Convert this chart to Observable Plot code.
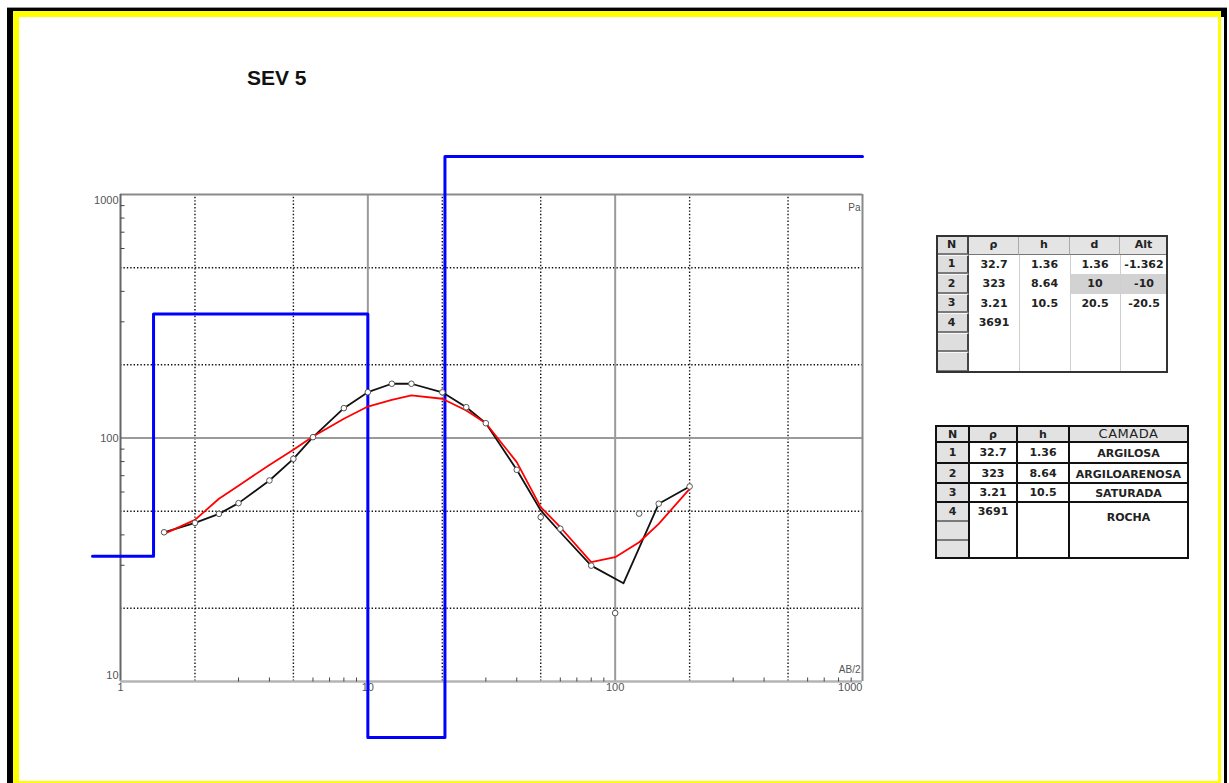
<!DOCTYPE html>
<html>
<head>
<meta charset="utf-8">
<script src="https://cdn.jsdelivr.net/npm/d3@7"></script>
<script src="https://cdn.jsdelivr.net/npm/@observablehq/plot@0.6"></script>
<style>
  body { margin: 0; background: #fff; }
  #page { position: relative; width: 1229px; height: 783px; overflow: hidden; background: #fff; font-family: "DejaVu Sans", sans-serif; }
  #page svg { position: absolute; left: 0; top: 0; }
</style>
</head>
<body>
<div id="page"></div>
<script>
// Sounding SEV 5: half electrode spacing AB/2 (m) and apparent resistivity (ohm.m)
const abHalf      = [1.5, 2, 2.5, 3, 4, 5, 6, 8, 10, 12.5, 15, 20, 25, 30, 40, 50, 60, 80, 100, 125, 150, 200];
const rhoObserved = [41.0, 44.8, 48.8, 54.0, 66.9, 82.1, 100.8, 132.6, 154.2, 167, 167, 154, 133.8, 115, 74, 47.3, 42.4, 29.9, 19.1, 48.9, 53.7, 63.2];

// Field curve as drawn (smoothed through the readings)
const curveAB  = [1.5, 2, 2.5, 3, 4, 5, 6, 8, 10, 12.5, 15, 20, 25, 30, 40, 50, 60, 80, 108, 150, 200];
const curveRho = [41.0, 44.8, 48.8, 54.0, 66.9, 82.1, 100.8, 132.6, 154.2, 167, 167, 154, 133.8, 115, 74, 50.4, 41.0, 29.9, 25.3, 53.7, 63.2];

// Theoretical curve of the fitted model, at the same spacings
const modelRho = [40.4, 46.1, 56.3, 63.7, 77.5, 89.4, 101.4, 120, 134.6, 143.5, 149.5, 144.9, 129.7, 115, 79.6, 52, 43, 30.9, 32.4, 37.3, 44.4, 61.8];

// Layered model
const layerN     = [1, 2, 3, 4];
const layerRho   = [32.7, 323, 3.21, 3691];
const layerH     = [1.36, 8.64, 10.5];
const layerDepth = [1.36, 10, 20.5];
const layerAlt   = [-1.362, -10, -20.5];
const layerName  = ["ARGILOSA", "ARGILOARENOSA", "SATURADA", "ROCHA"];
const modelTop = 0.1;     // surface end of the model column
const modelBottom = 1000; // last layer runs to the end of the axis

// Axes
const xTickLabels = [1, 10, 100, 1000];
const yTickLabels = [1000, 100, 10];
const gridMajor   = [10, 100];
const gridDotX    = [2, 5, 20, 50, 200, 500];
const gridDotY    = [20, 50, 200, 500];
const minorTicks  = [3, 4, 6, 7, 8, 9, 30, 40, 60, 70, 80, 90, 300, 400, 600, 700, 800, 900];
const minorTicksY = [30, 40, 60, 70, 80, 90, 300, 400, 600, 700, 800, 900];

const observed = abHalf.map((a, i) => ({ab: a, rho: rhoObserved[i]}));
const fieldCurve = curveAB.map((a, i) => ({ab: a, rho: curveRho[i]}));
const modelCurve = abHalf.map((a, i) => ({ab: a, rho: modelRho[i]}));
const modelSteps = [modelTop, ...layerDepth, modelBottom].map((d, i) => ({depth: d, rho: layerRho[Math.min(i, layerRho.length - 1)]}));

const page = document.getElementById("page");

// Window frame
function box(x, y, w, h, css, text) {
  const el = document.createElement("div");
  el.style.cssText = `position:absolute;left:${x}px;top:${y}px;width:${w}px;height:${h}px;box-sizing:border-box;display:flex;align-items:center;justify-content:center;white-space:nowrap;${css || ""}`;
  if (text != null) el.textContent = text;
  page.appendChild(el);
  return el;
}
box(7, 7, 1220, 1, "background:#9a9a9a");
box(7, 8, 1220, 800, "background:#000");
box(13, 11, 1208, 800, "background:#ffff00");
box(1221, 17, 3, 800, "background:#fff");
box(19, 17, 1199, 764, "background:#fff");

// Title
box(247, 67, 120, 21, "justify-content:flex-start;font:bold 21px 'Liberation Sans',Arial,sans-serif;color:#111;line-height:21px", "SEV 5");

// Tick marks drawn as symbols
const tickUp = {draw(ctx) { ctx.moveTo(0, 0); ctx.lineTo(0, -4); }};
const tickRight = {draw(ctx) { ctx.moveTo(0, 0); ctx.lineTo(4, 0); }};

const labelStyle = {fill: "#555", fontSize: 11};
const dotted = {stroke: "#111", strokeWidth: 1.4, strokeDasharray: "1.4,2"};

const chart = Plot.plot({
  width: 1229,
  height: 783,
  x: {type: "log", domain: [0.7704, 1000], range: [92, 862], clamp: true, axis: null},
  y: {type: "log", domain: [5.888, 1432], range: [737, 156], clamp: true, axis: null},
  style: {background: "transparent", fontFamily: "'Liberation Sans', Arial, sans-serif", overflow: "visible"},
  marks: [
    // grid
    Plot.ruleX(gridDotX, {x: d => d, y1: 10, y2: 1000, ...dotted}),
    Plot.ruleY(gridDotY, {y: d => d, x1: 1, x2: 1000, ...dotted}),
    Plot.ruleX(gridMajor, {x: d => d, y1: 10, y2: 1000, stroke: "#9a9a9a", strokeWidth: 2}),
    Plot.ruleY([100], {y: d => d, x1: 1, x2: 1000, stroke: "#9a9a9a", strokeWidth: 2}),
    // plot box
    Plot.ruleY([1000], {y: d => d, x1: 1, x2: 1000, stroke: "#8a8a8a", strokeWidth: 2}),
    Plot.ruleX([1000], {x: d => d, y1: 10, y2: 1000, stroke: "#8a8a8a", strokeWidth: 2}),
    Plot.ruleX([1], {x: d => d, y1: 10, y2: 1000, stroke: "#666", strokeWidth: 2}),
    Plot.ruleY([10], {y: d => d, x1: 1, x2: 1000, stroke: "#b4b4b4", strokeWidth: 2.5}),
    Plot.dot(minorTicks, {x: d => d, y: () => 10, symbol: tickUp, fill: "none", stroke: "#444", strokeWidth: 1}),
    Plot.dot(minorTicksY, {x: () => 1, y: d => d, symbol: tickRight, fill: "none", stroke: "#444", strokeWidth: 1}),
    // tick labels
    Plot.text(yTickLabels.filter(d => d === 1000), {x: () => 1, y: d => d, text: d => String(d), textAnchor: "end", lineAnchor: "top", dx: -2, dy: 2, ...labelStyle}),
    Plot.text(yTickLabels.filter(d => d === 100), {x: () => 1, y: d => d, text: d => String(d), textAnchor: "end", dx: -2, ...labelStyle}),
    Plot.text(yTickLabels.filter(d => d === 10), {x: () => 1, y: d => d, text: d => String(d), textAnchor: "end", lineAnchor: "bottom", dx: -2, dy: -2, ...labelStyle}),
    Plot.text(xTickLabels.filter(d => d < 1000), {x: d => d, y: () => 10, text: d => String(d), lineAnchor: "top", dy: 2, ...labelStyle}),
    Plot.text(xTickLabels.filter(d => d === 1000), {x: d => d, y: () => 10, text: d => String(d), textAnchor: "end", lineAnchor: "top", dy: 2, ...labelStyle}),
    Plot.text(["Pa"], {x: () => 1000, y: () => 1000, text: d => d, textAnchor: "end", lineAnchor: "top", dx: -2, dy: 9, ...labelStyle, fontSize: 10}),
    Plot.text(["AB/2"], {x: () => 1000, y: () => 10, text: d => d, textAnchor: "end", lineAnchor: "bottom", dx: -2, dy: -8, ...labelStyle, fontSize: 10}),
    // layered model
    Plot.line(modelSteps, {x: "depth", y: "rho", curve: "step-after", stroke: "#0000ff", strokeWidth: 3}),
    // field curve, model response and readings
    Plot.line(fieldCurve, {x: "ab", y: "rho", stroke: "#111", strokeWidth: 1.8}),
    Plot.line(modelCurve, {x: "ab", y: "rho", stroke: "#ff0000", strokeWidth: 1.8}),
    Plot.dot(observed, {x: "ab", y: "rho", r: 2.8, fill: "#fff", stroke: "#555", strokeWidth: 1})
  ]
});
page.appendChild(chart);

// Model parameter table
const cellFont = "font:bold 11px 'DejaVu Sans',sans-serif;color:#222";
const cols1 = [936, 969, 1019, 1070, 1120, 1168];
const top1 = 235, rowH1 = 19.5, rows1 = 7;
const head1 = ["N", "ρ", "h", "d", "Alt"];
const fmt = v => (v == null ? "" : String(v));
box(936, top1, 232, rowH1 * rows1, "background:#fff");
for (let c = 1; c < 5; c++) {
  box(cols1[c], top1, cols1[c + 1] - cols1[c], rowH1, `background:#e4e4e4;border-right:1px solid #aaa;border-bottom:1px solid #777;${cellFont}`, head1[c]);
}
box(cols1[3], top1 + rowH1 * 2, cols1[5] - cols1[3], rowH1, "background:#d2d2d2");
for (let c = 2; c < 5; c++) box(cols1[c], top1 + rowH1, 1, rowH1 * (rows1 - 1), "background:#cfcfcf");
for (let r = 0; r < rows1; r++) {
  const label = r === 0 ? head1[0] : fmt(layerN[r - 1]);
  box(936, top1 + r * rowH1, 33, rowH1, `background:#dedede;border-top:1px solid #f8f8f8;border-bottom:2px solid #7a7a7a;border-right:2px solid #444;${cellFont}`, label);
}
layerN.forEach((n, i) => {
  const y = top1 + (i + 1) * rowH1;
  const vals = [layerRho[i], layerH[i], layerDepth[i], layerAlt[i]];
  vals.forEach((v, k) => box(cols1[k + 1], y, cols1[k + 2] - cols1[k + 1], rowH1, cellFont, fmt(v)));
});
box(936, top1, 232, rowH1 * rows1 + 1, "border:2px solid #333;background:transparent");

// Layer description table
const cols2 = [936, 969, 1017, 1069, 1188];
const lines2 = [426, 442, 463, 483, 502, 558];
const head2 = ["N", "ρ", "h"];
box(936, lines2[0], 252, lines2[1] - lines2[0], "background:#e2e2e2");
box(936, lines2[1], 33, lines2[5] - lines2[1], "background:#e2e2e2");
head2.forEach((t, c) => box(cols2[c], lines2[0], cols2[c + 1] - cols2[c], lines2[1] - lines2[0], cellFont, t));
box(cols2[3], lines2[0] - 2, cols2[4] - cols2[3], lines2[1] - lines2[0] + 2, "font:13px 'DejaVu Sans',sans-serif;letter-spacing:0.5px;color:#222", "CAMADA");
layerN.forEach((n, i) => {
  const y0 = lines2[i + 1];
  const h = i < 3 ? lines2[i + 2] - y0 : 19;
  box(cols2[0], y0, cols2[1] - cols2[0], h, cellFont, fmt(n));
  box(cols2[1], y0, cols2[2] - cols2[1], h, cellFont, fmt(layerRho[i]));
  box(cols2[2], y0, cols2[3] - cols2[2], h, cellFont, fmt(layerH[i]));
  box(cols2[3], y0 + (i === 3 ? 6 : 1), cols2[4] - cols2[3], h, cellFont, layerName[i]);
});
[521, 540].forEach(y => box(936, y - 1, 33, 2, "background:#7a7a7a"));
lines2.forEach(y => box(936, y - 1, 253, 2, "background:#111"));
cols2.forEach(x => box(x - 1, lines2[0] - 1, 2, lines2[5] - lines2[0] + 2, "background:#111"));
</script>
</body>
</html>
